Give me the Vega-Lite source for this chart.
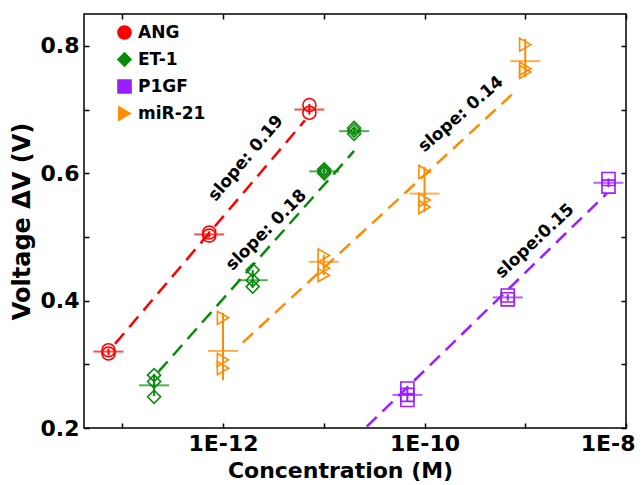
{
  "$schema": "https://vega.github.io/schema/vega-lite/v6.json",
  "width": 542,
  "height": 414,
  "autosize": {"type": "none"},
  "padding": {"left": 84, "top": 14, "right": 15, "bottom": 57},
  "background": "white",
  "config": {
    "view": {"stroke": "black", "strokeWidth": 1.5},
    "font": "DejaVu Sans",
    "axis": {
      "domain": false,
      "grid": false,
      "tickColor": "black",
      "tickWidth": 1.5,
      "tickSize": -5,
      "labelFont": "DejaVu Sans",
      "labelFontWeight": "bold",
      "labelFontSize": 22,
      "labelColor": "black",
      "titleFont": "DejaVu Sans",
      "titleFontWeight": "bold",
      "titleFontSize": 24,
      "titleColor": "black"
    },
    "legend": {
      "orient": "none",
      "legendX": 32,
      "legendY": 10,
      "padding": 0,
      "labelFont": "DejaVu Sans",
      "labelFontWeight": "bold",
      "labelFontSize": 17,
      "labelColor": "black",
      "labelOffset": 5,
      "rowPadding": 6,
      "symbolSize": 170,
      "symbolStrokeWidth": 1.6,
      "symbolOpacity": 1,
      "symbolFillColor": "transparent"
    }
  },
  "resolve": {"axis": {"x": "independent", "y": "independent"}},
  "datasets": {
    "reps": [
      {"series": "ANG", "conc": 7.3e-14, "v": 0.317},
      {"series": "ANG", "conc": 7.3e-14, "v": 0.322},
      {"series": "ANG", "conc": 7.3e-13, "v": 0.502},
      {"series": "ANG", "conc": 7.3e-13, "v": 0.507},
      {"series": "ANG", "conc": 7.2e-12, "v": 0.695},
      {"series": "ANG", "conc": 7.2e-12, "v": 0.707},
      {"series": "ET-1", "conc": 2.07e-13, "v": 0.283},
      {"series": "ET-1", "conc": 2.07e-13, "v": 0.273},
      {"series": "ET-1", "conc": 2.07e-13, "v": 0.249},
      {"series": "ET-1", "conc": 1.97e-12, "v": 0.448},
      {"series": "ET-1", "conc": 1.97e-12, "v": 0.432},
      {"series": "ET-1", "conc": 1.97e-12, "v": 0.422},
      {"series": "ET-1", "conc": 1.01e-11, "v": 0.600},
      {"series": "ET-1", "conc": 1.01e-11, "v": 0.603},
      {"series": "ET-1", "conc": 1.01e-11, "v": 0.606},
      {"series": "ET-1", "conc": 2.0e-11, "v": 0.662},
      {"series": "ET-1", "conc": 2.0e-11, "v": 0.667},
      {"series": "ET-1", "conc": 2.0e-11, "v": 0.671},
      {"series": "P1GF", "conc": 6.76e-11, "v": 0.262},
      {"series": "P1GF", "conc": 6.76e-11, "v": 0.252},
      {"series": "P1GF", "conc": 6.76e-11, "v": 0.244},
      {"series": "P1GF", "conc": 6.7e-10, "v": 0.408},
      {"series": "P1GF", "conc": 6.7e-10, "v": 0.402},
      {"series": "P1GF", "conc": 6.7e-09, "v": 0.591},
      {"series": "P1GF", "conc": 6.7e-09, "v": 0.579},
      {"series": "miR-21", "conc": 1e-12, "v": 0.373},
      {"series": "miR-21", "conc": 1e-12, "v": 0.307},
      {"series": "miR-21", "conc": 1e-12, "v": 0.294},
      {"series": "miR-21", "conc": 1e-11, "v": 0.471},
      {"series": "miR-21", "conc": 1e-11, "v": 0.451},
      {"series": "miR-21", "conc": 1e-11, "v": 0.440},
      {"series": "miR-21", "conc": 1e-10, "v": 0.602},
      {"series": "miR-21", "conc": 1e-10, "v": 0.558},
      {"series": "miR-21", "conc": 1e-10, "v": 0.547},
      {"series": "miR-21", "conc": 1e-09, "v": 0.802},
      {"series": "miR-21", "conc": 1e-09, "v": 0.764},
      {"series": "miR-21", "conc": 1e-09, "v": 0.759}
    ],
    "means": [
      {"series": "ANG", "conc": 7.3e-14, "mean": 0.320, "lo": 0.314, "hi": 0.325},
      {"series": "ANG", "conc": 7.3e-13, "mean": 0.504, "lo": 0.499, "hi": 0.509},
      {"series": "ANG", "conc": 7.2e-12, "mean": 0.700, "lo": 0.692, "hi": 0.709},
      {"series": "ET-1", "conc": 2.07e-13, "mean": 0.267, "lo": 0.250, "hi": 0.285},
      {"series": "ET-1", "conc": 1.97e-12, "mean": 0.432, "lo": 0.420, "hi": 0.448},
      {"series": "ET-1", "conc": 1.01e-11, "mean": 0.603, "lo": 0.598, "hi": 0.608},
      {"series": "ET-1", "conc": 2.0e-11, "mean": 0.666, "lo": 0.660, "hi": 0.673},
      {"series": "P1GF", "conc": 6.76e-11, "mean": 0.252, "lo": 0.242, "hi": 0.263},
      {"series": "P1GF", "conc": 6.7e-10, "mean": 0.405, "lo": 0.400, "hi": 0.410},
      {"series": "P1GF", "conc": 6.7e-09, "mean": 0.585, "lo": 0.578, "hi": 0.592},
      {"series": "miR-21", "conc": 1e-12, "mean": 0.321, "lo": 0.275, "hi": 0.381},
      {"series": "miR-21", "conc": 1e-11, "mean": 0.461, "lo": 0.440, "hi": 0.472},
      {"series": "miR-21", "conc": 1e-10, "mean": 0.568, "lo": 0.539, "hi": 0.610},
      {"series": "miR-21", "conc": 1e-09, "mean": 0.776, "lo": 0.751, "hi": 0.811}
    ],
    "fits": [
      {"series": "ANG", "conc": 8.47e-14, "v": 0.332},
      {"series": "ANG", "conc": 6.5e-12, "v": 0.683},
      {"series": "ET-1", "conc": 2.28e-13, "v": 0.288},
      {"series": "ET-1", "conc": 2.0e-11, "v": 0.635},
      {"series": "miR-21", "conc": 1.57e-12, "v": 0.334},
      {"series": "miR-21", "conc": 7.9e-10, "v": 0.728},
      {"series": "P1GF", "conc": 2.67e-11, "v": 0.202},
      {"series": "P1GF", "conc": 6.43e-09, "v": 0.568}
    ],
    "labels": [
      {"series": "ANG", "conc": 1.69e-12, "v": 0.6235, "text": "slope: 0.19"},
      {"series": "ET-1", "conc": 2.7e-12, "v": 0.5106, "text": "slope: 0.18"},
      {"series": "miR-21", "conc": 2.3e-10, "v": 0.6925, "text": "slope: 0.14"},
      {"series": "P1GF", "conc": 1.25e-09, "v": 0.4933, "text": "slope:0.15"}
    ]
  },
  "layer": [
    {
      "data": {"name": "reps"},
      "mark": {"type": "point", "filled": false, "fill": "transparent", "strokeWidth": 1.6, "size": 170, "opacity": 1},
      "encoding": {
        "x": {
          "field": "conc", "type": "quantitative",
          "scale": {"type": "log", "domain": [4.17e-14, 1e-8], "nice": false},
          "axis": {
            "orient": "bottom",
            "title": "Concentration (M)",
            "titleFontSize": 22,
            "titlePadding": 6,
            "titleX": 256,
            "values": [1e-13, 1e-12, 1e-11, 1e-10, 1e-9, 1e-8],
            "labelExpr": "round(log(datum.value)/LN10) % 2 == 0 ? '1E' + round(log(datum.value)/LN10) : ''",
            "labelPadding": 10,
            "labelFlush": true,
            "labelFlushOffset": 9
          }
        },
        "y": {
          "field": "v", "type": "quantitative",
          "scale": {"domain": [0.2, 0.85], "nice": false, "zero": false},
          "axis": {
            "orient": "left",
            "title": "Voltage ΔV (V)",
            "titlePadding": 6,
            "values": [0.2, 0.3, 0.4, 0.5, 0.6, 0.7, 0.8],
            "labelExpr": "round(datum.value*10) % 2 == 0 ? format(datum.value, '.1f') : ''",
            "labelPadding": 10,
            "labelFlush": false
          }
        },
        "stroke": {
          "field": "series", "type": "nominal",
          "scale": {"domain": ["ANG", "ET-1", "P1GF", "miR-21"], "range": ["#FF0000", "#0A8A0A", "#9A1EFF", "#FF8C00"]},
          "legend": {
            "title": null,
            "encode": {
              "symbols": {
                "fill": {"value": "transparent"},
                "strokeWidth": {"value": 1.6},
                "opacity": {"value": 1}
              }
            }
          }
        },
        "shape": {
          "field": "series", "type": "nominal",
          "scale": {"domain": ["ANG", "ET-1", "P1GF", "miR-21"], "range": ["circle", "diamond", "square", "triangle-right"]},
          "legend": {
            "title": null,
            "encode": {
              "symbols": {
                "fill": {"value": "transparent"},
                "strokeWidth": {"value": 1.6},
                "opacity": {"value": 1}
              }
            }
          }
        }
      }
    },
    {
      "data": {"name": "fits"},
      "mark": {"type": "line", "strokeDash": [14, 8], "strokeWidth": 2.5, "clip": true},
      "encoding": {
        "x": {"field": "conc", "type": "quantitative", "axis": null},
        "y": {"field": "v", "type": "quantitative", "axis": null},
        "color": {
          "field": "series", "type": "nominal", "legend": null,
          "scale": {"domain": ["ANG", "ET-1", "P1GF", "miR-21"], "range": ["#FF0000", "#0A8A0A", "#9A1EFF", "#FF8C00"]}
        },
        "detail": {"field": "series"}
      }
    },
    {
      "data": {"name": "means"},
      "mark": {"type": "rule", "strokeWidth": 2},
      "encoding": {
        "x": {"field": "conc", "type": "quantitative", "axis": null},
        "y": {"field": "lo", "type": "quantitative", "axis": null},
        "y2": {"field": "hi"},
        "color": {"field": "series", "type": "nominal", "legend": null}
      }
    },
    {
      "data": {"name": "means"},
      "mark": {"type": "tick", "orient": "horizontal", "size": 30, "thickness": 2},
      "encoding": {
        "x": {"field": "conc", "type": "quantitative", "axis": null},
        "y": {"field": "mean", "type": "quantitative", "axis": null},
        "fill": {
          "field": "series", "type": "nominal", "legend": null,
          "scale": {"domain": ["ANG", "ET-1", "P1GF", "miR-21"], "range": ["#FF0000", "#0A8A0A", "#9A1EFF", "#FF8C00"]}
        }
      }
    },
    {
      "data": {"name": "labels"},
      "transform": [{"filter": "datum.series == 'ANG'"}],
      "mark": {"type": "text", "angle": 310, "font": "DejaVu Sans", "fontWeight": "bold", "fontSize": 17, "color": "black", "align": "center", "baseline": "middle"},
      "encoding": {
        "x": {"field": "conc", "type": "quantitative", "axis": null},
        "y": {"field": "v", "type": "quantitative", "axis": null},
        "text": {"field": "text"}
      }
    },
    {
      "data": {"name": "labels"},
      "transform": [{"filter": "datum.series == 'ET-1'"}],
      "mark": {"type": "text", "angle": 315, "font": "DejaVu Sans", "fontWeight": "bold", "fontSize": 17, "color": "black", "align": "center", "baseline": "middle"},
      "encoding": {
        "x": {"field": "conc", "type": "quantitative", "axis": null},
        "y": {"field": "v", "type": "quantitative", "axis": null},
        "text": {"field": "text"}
      }
    },
    {
      "data": {"name": "labels"},
      "transform": [{"filter": "datum.series == 'miR-21'"}],
      "mark": {"type": "text", "angle": 319, "font": "DejaVu Sans", "fontWeight": "bold", "fontSize": 17, "color": "black", "align": "center", "baseline": "middle"},
      "encoding": {
        "x": {"field": "conc", "type": "quantitative", "axis": null},
        "y": {"field": "v", "type": "quantitative", "axis": null},
        "text": {"field": "text"}
      }
    },
    {
      "data": {"name": "labels"},
      "transform": [{"filter": "datum.series == 'P1GF'"}],
      "mark": {"type": "text", "angle": 317, "font": "DejaVu Sans", "fontWeight": "bold", "fontSize": 17, "color": "black", "align": "center", "baseline": "middle"},
      "encoding": {
        "x": {"field": "conc", "type": "quantitative", "axis": null},
        "y": {"field": "v", "type": "quantitative", "axis": null},
        "text": {"field": "text"}
      }
    },
    {
      "data": {"name": "means"},
      "mark": {"type": "point", "opacity": 0},
      "encoding": {
        "x": {
          "field": "conc", "type": "quantitative",
          "axis": {"orient": "top", "title": null, "labels": false, "values": [1e-13, 1e-12, 1e-11, 1e-10, 1e-9, 1e-8]}
        },
        "y": {
          "field": "mean", "type": "quantitative",
          "axis": {"orient": "right", "title": null, "labels": false, "values": [0.2, 0.3, 0.4, 0.5, 0.6, 0.7, 0.8]}
        }
      }
    }
  ]
}
